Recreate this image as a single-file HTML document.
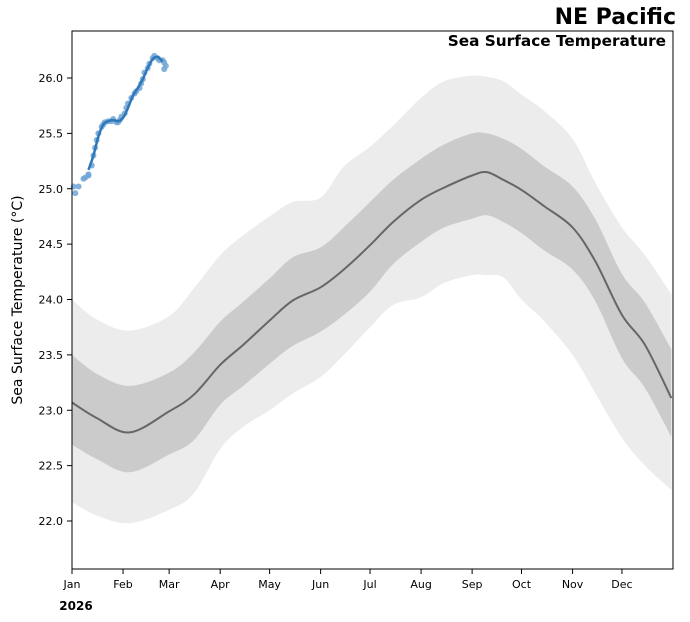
<!DOCTYPE html>
<html><head><meta charset="utf-8"><style>
body{margin:0;background:#fff;font-family:"DejaVu Sans","Liberation Sans",sans-serif}
svg text{font-family:"DejaVu Sans","Liberation Sans",sans-serif}
</style></head><body>
<svg id="chart" width="690" height="618" xmlns="http://www.w3.org/2000/svg">
<text x="676" y="24" text-anchor="end" font-size="22" font-weight="bold">NE Pacific</text>
<g id="plot"></g>
<text x="666" y="46" text-anchor="end" font-size="15.3" font-weight="bold">Sea Surface Temperature</text>
<text x="76" y="610" text-anchor="middle" font-size="12" font-weight="bold">2026</text>
<text transform="translate(22,300) rotate(-90)" text-anchor="middle" font-size="14">Sea Surface Temperature (°C)</text>
</svg>
<script>
const knotDays=[0,15,35,59,74,90,104,120,134,151,165,181,195,212,226,243,252,262,273,287,304,318,334,348,364];
const meanVals=[23.07,22.93,22.80,22.99,23.14,23.41,23.59,23.81,23.99,24.11,24.27,24.49,24.70,24.90,25.01,25.12,25.15,25.08,24.99,24.84,24.65,24.34,23.86,23.59,23.11];
const innerUpper=[23.50,23.33,23.22,23.34,23.52,23.80,23.98,24.19,24.38,24.47,24.65,24.88,25.08,25.27,25.40,25.50,25.50,25.45,25.36,25.20,25.02,24.72,24.23,23.97,23.55];
const innerLower=[22.69,22.56,22.44,22.60,22.73,23.05,23.22,23.42,23.58,23.71,23.86,24.07,24.32,24.52,24.65,24.73,24.76,24.70,24.60,24.44,24.27,23.98,23.47,23.20,22.76];
const outerUpper=[24.00,23.82,23.72,23.85,24.10,24.40,24.58,24.75,24.88,24.92,25.20,25.38,25.57,25.82,25.97,26.02,26.01,25.97,25.85,25.70,25.45,25.05,24.65,24.40,24.05];
const outerLower=[22.17,22.05,21.98,22.10,22.25,22.65,22.85,23.00,23.15,23.30,23.50,23.75,23.95,24.02,24.15,24.22,24.22,24.20,24.00,23.80,23.50,23.15,22.75,22.50,22.28];
const obsDays=[1,2,4,7,8,10,10,12,13,14,15,16,18,19,20,22,24,25,27,28,29,30,32,33,34,36,38,39,41,42,43,44,46,47,49,50,52,53,55,56,56,57];
const obsVals=[25.02,24.96,25.02,25.09,25.10,25.12,25.13,25.21,25.30,25.37,25.44,25.50,25.56,25.58,25.60,25.61,25.61,25.63,25.60,25.60,25.62,25.65,25.68,25.73,25.77,25.82,25.86,25.88,25.91,25.95,25.99,26.05,26.09,26.13,26.18,26.20,26.18,26.16,26.16,26.14,26.08,26.11];
const smoothDays=[10,13,16,19,22,25,28,31,34,37,40,43,46,49,52,55];
const smoothVals=[25.17,25.30,25.47,25.58,25.61,25.62,25.61,25.64,25.73,25.84,25.91,25.99,26.09,26.17,26.19,26.15];
const yTicks=[22.0,22.5,23.0,23.5,24.0,24.5,25.0,25.5,26.0];
const monthLabels=["Jan","Feb","Mar","Apr","May","Jun","Jul","Aug","Sep","Oct","Nov","Dec"];
const monthStarts=[0,31,59,90,120,151,181,212,243,273,304,334];

const X0=72,X1=673,Y0=31,Y1=569;
const x=d=>X0+d*(X1-X0)/365;
const y=v=>78+(26-v)*110.75;
const NS="http://www.w3.org/2000/svg";
const plot=document.getElementById('plot');
function mk(tag,attrs){const e=document.createElementNS(NS,tag);for(const k in attrs)e.setAttribute(k,attrs[k]);plot.appendChild(e);return e;}
function pts(ds,vs){return ds.map((d,i)=>[x(d),y(vs[i])]);}
function smoothPath(p,move){let s=(move?'M':'L')+p[0][0].toFixed(1)+','+p[0][1].toFixed(1);
 for(let i=0;i<p.length-1;i++){const p0=p[i-1]||p[i],p1=p[i],p2=p[i+1],p3=p[i+2]||p2;
  const c1=[p1[0]+(p2[0]-p0[0])/6,p1[1]+(p2[1]-p0[1])/6],c2=[p2[0]-(p3[0]-p1[0])/6,p2[1]-(p3[1]-p1[1])/6];
  s+=`C${c1[0].toFixed(1)},${c1[1].toFixed(1)} ${c2[0].toFixed(1)},${c2[1].toFixed(1)} ${p2[0].toFixed(1)},${p2[1].toFixed(1)}`;}
 return s;}
function band(up,lo){const a=pts(knotDays,up),b=pts(knotDays,lo).reverse();return smoothPath(a,true)+smoothPath(b,false)+'Z';}
const clip=mk('clipPath',{id:'pc'});const cr=document.createElementNS(NS,'rect');cr.setAttribute('x',X0);cr.setAttribute('y',Y0);cr.setAttribute('width',X1-X0);cr.setAttribute('height',Y1-Y0);clip.appendChild(cr);
const ob=mk('path',{d:band(outerUpper,outerLower),fill:'#ececec','clip-path':'url(#pc)'});


const ib=mk('path',{d:band(innerUpper,innerLower),fill:'#cbcbcb','clip-path':'url(#pc)'});


const ml=mk('path',{d:smoothPath(pts(knotDays,meanVals),true),fill:'none',stroke:'#666',"stroke-width":2,'clip-path':'url(#pc)'});


obsDays.forEach((d,i)=>{const c=mk('circle',{cx:x(d),cy:y(obsVals[i]),r:3,fill:'#6fa5d6','fill-opacity':0.85});
 
 });
const sl=mk('path',{d:smoothPath(pts(smoothDays,smoothVals),true),fill:'none',stroke:'#2f78b8',"stroke-width":2.5});


const fr=mk('rect',{x:X0,y:Y0,width:X1-X0,height:Y1-Y0,fill:'none',stroke:'#000','stroke-width':1});


yTicks.forEach(v=>{const yy=y(v);mk('line',{x1:X0-5,x2:X0,y1:yy,y2:yy,stroke:'#000'});
 const t=mk('text',{x:X0-9,y:yy+4,'text-anchor':'end','font-size':11});t.textContent=v.toFixed(1);
 
 });
monthStarts.forEach((d,i)=>{const xx=x(d);mk('line',{x1:xx,x2:xx,y1:Y1,y2:Y1+5,stroke:'#000'});
 const t=mk('text',{x:xx,y:Y1+19,'text-anchor':'middle','font-size':11});t.textContent=monthLabels[i];
 
 });
</script>
</body></html>
